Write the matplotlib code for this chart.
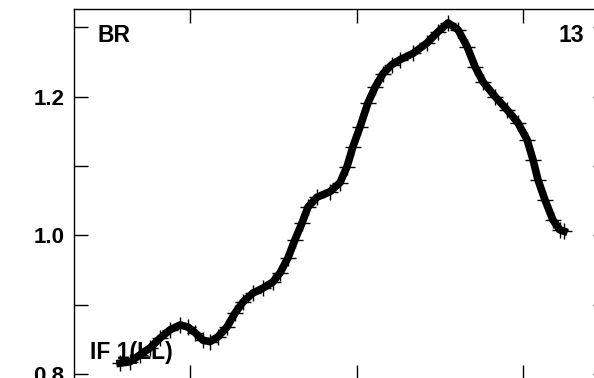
import numpy as np
import matplotlib
matplotlib.use("Agg")
import matplotlib.pyplot as plt

# curve (arbitrary x units, ticks at 1, 2, 3)
x_vals = [0.580, 0.640, 0.700, 0.760, 0.820, 0.880, 0.940, 0.988, 1.030, 1.078,
          1.120, 1.168, 1.222, 1.270, 1.318, 1.378, 1.438, 1.498, 1.541, 1.589,
          1.631, 1.673, 1.709, 1.763, 1.841, 1.901, 1.943, 1.979, 2.021, 2.069,
          2.111, 2.159, 2.213, 2.261, 2.339, 2.423, 2.489, 2.550, 2.610, 2.664,
          2.712, 2.760, 2.832, 2.904, 2.970, 3.024, 3.060, 3.090, 3.132, 3.180,
          3.222, 3.246]
y_vals = [0.816, 0.818, 0.828, 0.838, 0.852, 0.864, 0.871, 0.868, 0.860, 0.849,
          0.847, 0.854, 0.868, 0.888, 0.904, 0.917, 0.924, 0.933, 0.946, 0.968,
          0.994, 1.018, 1.041, 1.055, 1.063, 1.076, 1.099, 1.128, 1.156, 1.191,
          1.213, 1.233, 1.246, 1.253, 1.262, 1.277, 1.293, 1.306, 1.296, 1.272,
          1.243, 1.221, 1.200, 1.181, 1.162, 1.138, 1.109, 1.080, 1.051, 1.022,
          1.008, 1.006]

y_ticks = [0.8, 0.9, 1.0, 1.1, 1.2, 1.3]
y_ticklabels = ["0.8", "", "1.0", "", "1.2", ""]
x_ticks = [1, 2, 3]

plt.rcParams['font.family'] = ['Liberation Sans', 'DejaVu Sans']
plt.rcParams['font.weight'] = 'bold'

fig = plt.figure(figsize=(5.94, 3.78), dpi=100)
ax = fig.add_axes([74 / 594, -1 / 378, 533 / 594, 370 / 378])

# thick band of + markers, like the original scan
ax.plot(x_vals, y_vals, color='black', lw=5.5, marker='+', ms=12, mew=1.0)

ax.set_xlim(0.3033, 3.5045)
ax.set_ylim(0.7932, 1.326)
ax.set_yticks(y_ticks)
ax.set_yticklabels(y_ticklabels)
ax.set_xticks(x_ticks)
ax.set_xticklabels([])
ax.tick_params(direction='in', length=10, width=1, top=True, right=True,
               labelsize=16, pad=7)
for s in ax.spines.values():
    s.set_linewidth(1)

fig.text(97.7 / 594, 1 - 42 / 378, "BR", fontsize=16.5, fontweight='bold',
         ha='left', va='baseline')
fig.text(584 / 594, 1 - 42 / 378, "13", fontsize=16.5, fontweight='bold',
         ha='right', va='baseline')
fig.text(90 / 594, 1 - 359.5 / 378, "IF 1(LL)", fontsize=16.5, fontweight='bold',
         ha='left', va='baseline')

fig.savefig("out.png", dpi=100)
